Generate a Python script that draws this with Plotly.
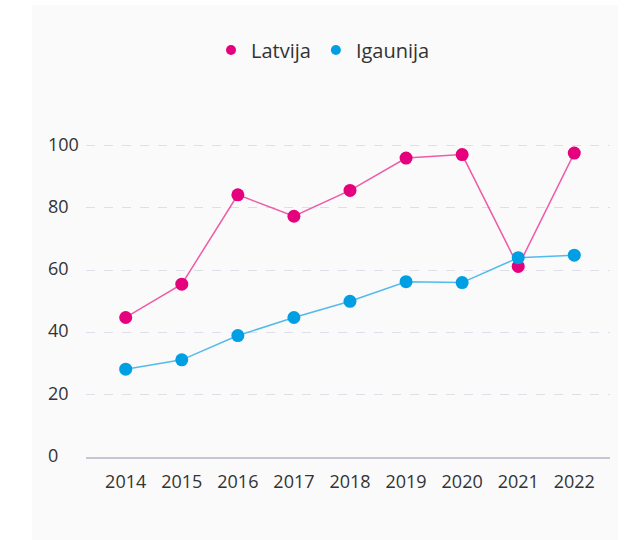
import plotly.graph_objects as go

years = ["2014", "2015", "2016", "2017", "2018", "2019", "2020", "2021", "2022"]
latvija = [44.8, 55.5, 84.2, 77.3, 85.6, 96.0, 97.1, 61.2, 97.6]
igaunija = [28.2, 31.2, 39.0, 44.8, 50.0, 56.3, 56.0, 64.0, 64.8]
y_ticks = [0, 20, 40, 60, 80, 100]
series_names = ["Latvija", "Igaunija"]

PINK = "#e5007d"
PINK_LINE = "rgba(236, 64, 152, 0.85)"
BLUE = "#009fe3"
BLUE_LINE = "rgba(40, 170, 232, 0.8)"
FONT = "Open Sans"
TXT = "#333333"

W, H = 627, 540
L, R, T, B = 86, 17, 130, 83
pw, ph = W - L - R, H - T - B


def px_x(p):
    return (p - L) / pw


def px_y(p):
    return (H - B - p) / ph


fig = go.Figure()
for name, vals, mc, lc in [(series_names[0], latvija, PINK, PINK_LINE),
                           (series_names[1], igaunija, BLUE, BLUE_LINE)]:
    fig.add_trace(go.Scatter(
        x=years, y=vals, name=name, mode="lines+markers",
        line=dict(color=lc, width=1.5),
        marker=dict(color=mc, size=13),
        showlegend=False, cliponaxis=False,
    ))
# legend-only entries (dot only)
for name, mc in [(series_names[0], PINK), (series_names[1], BLUE)]:
    fig.add_trace(go.Scatter(
        x=[None], y=[None], name=name, mode="markers",
        marker=dict(color=mc, size=10), showlegend=True,
    ))

# gray panel behind the chart
fig.add_shape(type="rect", xref="paper", yref="paper",
              x0=px_x(32), x1=px_x(618), y0=px_y(545), y1=px_y(5),
              fillcolor="#fafafb", line=dict(width=0), layer="below")

# left-aligned y tick labels
for v in y_ticks:
    fig.add_annotation(x=0, xref="paper", y=v, yref="y", text=str(v),
                       showarrow=False, xanchor="left", yanchor="middle",
                       xshift=46 - L, yshift=2,
                       font=dict(family=FONT, size=18, color=TXT))

fig.update_layout(
    width=W, height=H,
    margin=dict(l=L, r=R, t=T, b=B, pad=0),
    paper_bgcolor="white", plot_bgcolor="rgba(0,0,0,0)",
    font=dict(family=FONT, size=18, color=TXT),
    legend=dict(orientation="h", x=px_x(323), xanchor="center",
                y=px_y(50), yanchor="middle",
                font=dict(family=FONT, size=20, color=TXT),
                bgcolor="rgba(0,0,0,0)", itemwidth=30),
    xaxis=dict(type="category", range=[-0.708, 8.637], showgrid=False,
               showline=True, linecolor="#c6c6d4", linewidth=1.5,
               ticks="", ticklabelstandoff=8, zeroline=False,
               tickfont=dict(family=FONT, size=18, color=TXT)),
    yaxis=dict(range=[0, 105], tickvals=y_ticks, showticklabels=False,
               showgrid=True, gridcolor="#dfdfea", griddash="dash", gridwidth=1,
               zeroline=False, showline=False),
)
fig.write_html("out.html", config={"displayModeBar": False},
               post_script="document.body.style.margin='0';document.body.style.padding='0';")
